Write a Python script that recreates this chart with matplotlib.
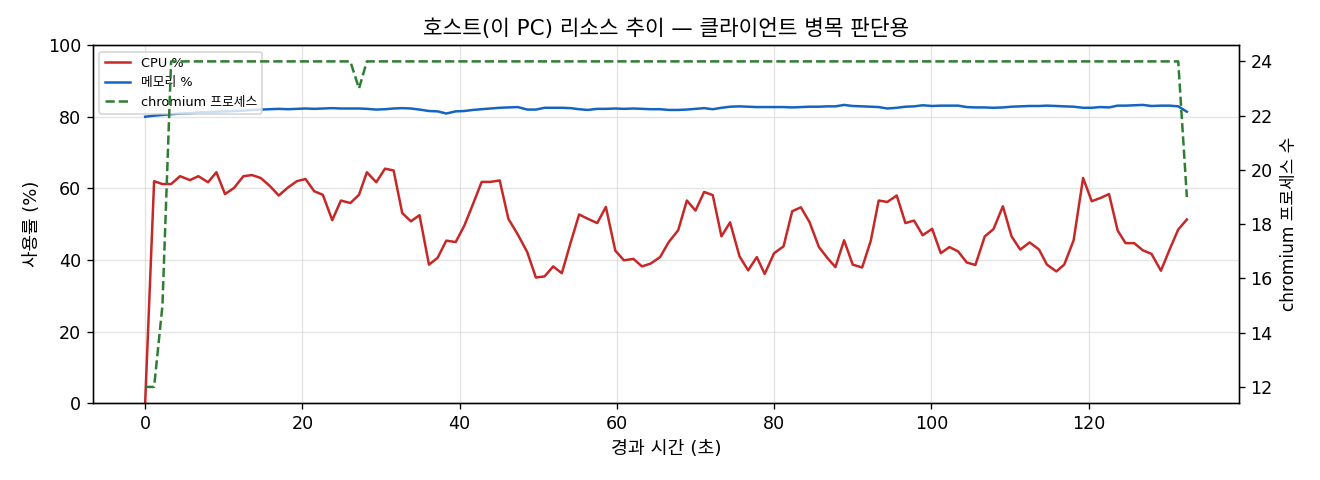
import matplotlib
matplotlib.use("Agg")
import matplotlib.pyplot as plt

plt.rcParams['font.family'] = ['DejaVu Sans', 'Noto Sans CJK KR']
plt.rcParams['axes.unicode_minus'] = False

elapsed_s = [0, 1.14, 2.2, 3.3, 4.44, 5.7, 6.77, 8.0, 9.06, 10.16, 11.3, 12.5, 13.6, 14.7, 15.8,
             17.0, 18.2, 19.3, 20.4, 21.5, 22.6, 23.8, 24.9, 26.1, 27.2, 28.2, 29.4, 30.5, 31.6,
             32.7, 33.8, 34.9, 36.1, 37.2, 38.3, 39.5, 40.6, 41.7, 42.8, 43.9, 45.1,
             46.2, 47.4, 48.6, 49.7, 50.8, 51.9, 53.0, 54.1, 55.2, 56.3, 57.5, 58.6, 59.8, 60.9,
             62.1, 63.2, 64.3, 65.5, 66.6, 67.8, 68.9, 70.0, 71.1, 72.2, 73.3, 74.4, 75.6, 76.7,
             77.8, 78.8, 80.0, 81.2, 82.3, 83.4, 84.5, 85.7, 86.8, 87.8, 88.9, 90.0, 91.2, 92.3,
             93.3, 94.4, 95.6, 96.7, 97.8, 98.9, 100.1, 101.2, 102.3, 103.4, 104.5, 105.6, 106.8,
             107.9, 109.1, 110.2, 111.3, 112.5, 113.7, 114.7, 115.9, 116.9, 118.1, 119.3, 120.4,
             121.5, 122.6, 123.7, 124.7, 125.8, 126.9, 128.0, 129.2, 130.3, 131.4, 132.5]

cpu_pct = [0.0, 62.0, 61.2, 61.2, 63.4, 62.3, 63.4, 61.7, 64.5, 58.4, 60.1, 63.4, 63.7, 62.9, 60.8,
           58.0, 60.3, 62.0, 62.6, 59.2, 58.2, 51.1, 56.6, 55.9, 58.2, 64.5, 61.7, 65.5, 65.0,
           53.1, 50.8, 52.5, 38.7, 40.6, 45.4, 45.0, 49.6, 55.6, 61.8, 61.8, 62.2,
           51.5, 47.1, 42.2, 35.1, 35.4, 38.2, 36.3, 44.7, 52.7, 51.5, 50.3, 54.8, 42.6, 39.9,
           40.3, 38.2, 39.0, 40.8, 45.0, 48.3, 56.6, 53.8, 59.0, 58.1, 46.6, 50.5, 41.0, 37.1,
           40.8, 36.1, 41.9, 43.8, 53.6, 54.7, 50.6, 43.6, 40.5, 38.0, 45.5, 38.7, 37.9, 45.4,
           56.6, 56.2, 58.0, 50.3, 51.0, 46.9, 48.7, 41.9, 43.6, 42.4, 39.3, 38.6, 46.6,
           48.6, 55.0, 46.6, 42.9, 44.9, 42.9, 38.7, 36.8, 38.7, 45.5, 62.9, 56.4,
           57.3, 58.4, 48.2, 44.7, 44.7, 42.7, 41.7, 37.0, 42.9, 48.5, 51.3]

mem_pct = [80.0, 80.3, 80.5, 80.7, 80.9, 81.0, 81.2, 81.3, 81.4, 81.5, 81.6, 81.7, 81.9, 82.0, 82.1,
           82.2, 82.1, 82.2, 82.3, 82.2, 82.3, 82.4, 82.3, 82.3, 82.3, 82.2, 82.0, 82.1, 82.3,
           82.4, 82.3, 82.0, 81.6, 81.5, 80.9, 81.5, 81.6, 81.9, 82.1, 82.3, 82.5,
           82.6, 82.7, 82.0, 82.0, 82.5, 82.5, 82.5, 82.4, 82.1, 81.9, 82.2, 82.2, 82.3, 82.2,
           82.3, 82.2, 82.1, 82.1, 81.9, 81.9, 82.0, 82.2, 82.4, 82.1, 82.5, 82.8, 82.9, 82.8,
           82.7, 82.7, 82.7, 82.7, 82.6, 82.7, 82.8, 82.8, 82.9, 82.9, 83.3, 83.0, 82.9, 82.8,
           82.7, 82.3, 82.5, 82.8, 82.9, 83.2, 83.0, 83.1, 83.1, 83.1, 82.7, 82.6, 82.6,
           82.5, 82.6, 82.8, 82.9, 83.0, 83.0, 83.1, 83.0, 82.9, 82.8, 82.5, 82.5,
           82.7, 82.6, 83.1, 83.1, 83.2, 83.3, 83.0, 83.1, 83.1, 82.9, 81.4]

chromium_procs = [12, 12, 15] + [24] * 21 + [23] + [24] * 93 + [19]

fig, ax = plt.subplots(figsize=(11, 4), dpi=120)
fig.subplots_adjust(left=0.0705, right=0.9386, top=0.906, bottom=0.160)

l1, = ax.plot(elapsed_s, cpu_pct, color='#c62828', lw=1.5, label='CPU %')
l2, = ax.plot(elapsed_s, mem_pct, color='#1565c0', lw=1.5, label='메모리 %')
ax.set_ylim(0, 100)
ax.set_xlabel('경과 시간 (초)', fontsize=11)
ax.set_ylabel('사용률 (%)', fontsize=10.8)
ax.grid(True, color='#d9d9d9', lw=0.8, alpha=0.7)
ax.tick_params(labelsize=10.5)

ax2 = ax.twinx()
l3, = ax2.plot(elapsed_s, chromium_procs, color='#2e7d32', lw=1.5, ls='--', label='chromium 프로세스')
ax2.set_ylabel('chromium 프로세스 수', fontsize=10.2)
ax2.tick_params(labelsize=10.5)

ax.set_title('호스트(이 PC) 리소스 추이 — 클라이언트 병목 판단용', fontsize=12.8)
ax.legend(handles=[l1, l2, l3], loc='upper left', fontsize=7.7, framealpha=0.8)

fig.savefig('out.png', dpi=120)
